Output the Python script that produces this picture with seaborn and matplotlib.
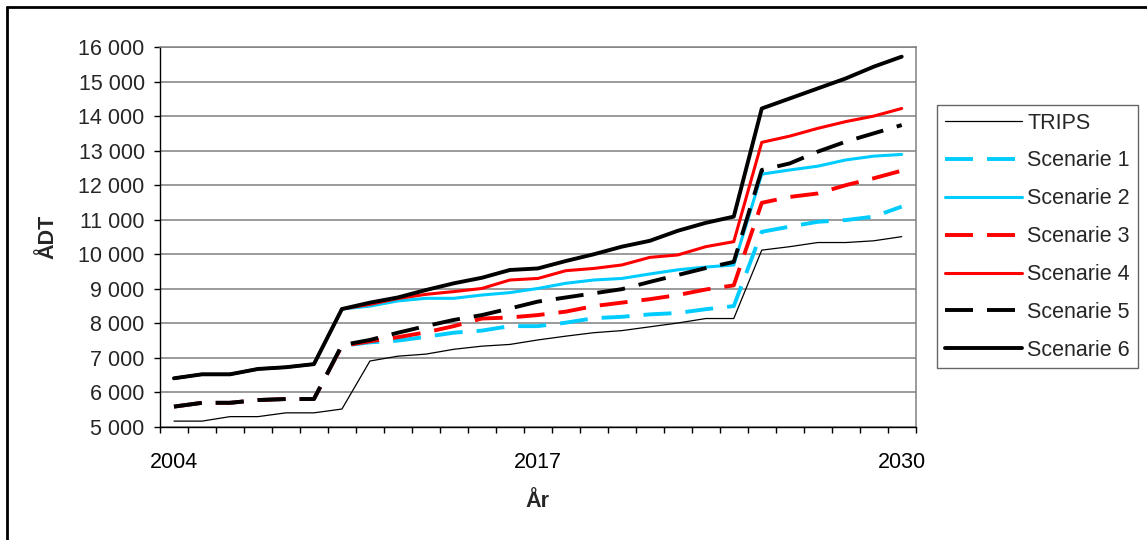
import numpy as np
import pandas as pd
import seaborn as sns
import matplotlib.pyplot as plt
from matplotlib.ticker import FuncFormatter, FixedLocator
from matplotlib.lines import Line2D

# data (ÅDT per year)
years = list(range(2004, 2031))

trips = [5170, 5170, 5300, 5300, 5410, 5410, 5520, 6910, 7050, 7110, 7250, 7340, 7390, 7520,
         7630, 7730, 7790, 7900, 8010, 8140, 8140, 10120, 10220, 10340, 10340, 10390, 10510]
scen1 = [5590, 5700, 5700, 5780, 5810, 5810, 7350, 7450, 7500, 7610, 7730, 7790, 7920, 7920,
         8020, 8150, 8190, 8260, 8300, 8410, 8500, 10650, 10800, 10940, 10990, 11090, 11380]
scen2 = [6410, 6525, 6525, 6680, 6730, 6820, 8415, 8500, 8650, 8725, 8725, 8820, 8890, 9010,
         9160, 9255, 9300, 9430, 9550, 9630, 9690, 12320, 12440, 12550, 12730, 12840, 12890]
scen3 = [5590, 5700, 5700, 5780, 5810, 5810, 7350, 7480, 7600, 7740, 7920, 8140, 8170, 8240,
         8340, 8500, 8600, 8700, 8820, 8980, 9100, 11490, 11660, 11760, 12000, 12200, 12420]
scen4 = [6410, 6525, 6525, 6680, 6730, 6820, 8415, 8550, 8720, 8840, 8920, 9010, 9255, 9300,
         9525, 9590, 9690, 9910, 9980, 10220, 10365, 13240, 13420, 13645, 13840, 14000, 14220]
scen5 = [5590, 5700, 5700, 5780, 5810, 5810, 7370, 7520, 7730, 7920, 8100, 8240, 8430, 8630,
         8750, 8870, 8990, 9200, 9400, 9600, 9780, 12440, 12630, 12970, 13260, 13500, 13740]
scen6 = [6410, 6525, 6525, 6680, 6730, 6820, 8415, 8600, 8750, 8965, 9160, 9320, 9545, 9590,
         9805, 10000, 10220, 10390, 10680, 10910, 11090, 14220, 14510, 14800, 15090, 15430, 15720]

series_names = ["TRIPS", "Scenarie 1", "Scenarie 2", "Scenarie 3", "Scenarie 4", "Scenarie 5", "Scenarie 6"]
series_vals = [trips, scen1, scen2, scen3, scen4, scen5, scen6]
x_labels = [2004, 2017, 2030]

sns.set_style("white")
plt.rcParams['font.family'] = ['Liberation Sans', 'DejaVu Sans']

W, H = 1147, 540
FS = 15.5
fig = plt.figure(figsize=(W / 100, H / 100), dpi=100)
ax = fig.add_axes([160 / W, (H - 427) / H, (915.7 - 160) / W, (427 - 47) / H])

dash = (0, (7.2, 3.6))
styles = {
    "TRIPS": dict(color="black", lw=0.9, ls="-"),
    "Scenarie 1": dict(color="#00CCFF", lw=2.8, ls=dash),
    "Scenarie 2": dict(color="#00CCFF", lw=2.2, ls="-"),
    "Scenarie 3": dict(color="#FF0000", lw=2.8, ls=dash),
    "Scenarie 4": dict(color="#FF0000", lw=2.2, ls="-"),
    "Scenarie 5": dict(color="black", lw=2.8, ls=dash),
    "Scenarie 6": dict(color="black", lw=2.8, ls="-"),
}

for name, vals in zip(series_names, series_vals):
    st = styles[name]
    sns.lineplot(x=years, y=vals, ax=ax, color=st["color"], lw=st["lw"],
                 linestyle=st["ls"], label=name)

ax.set_xlim(2003.5, 2030.5)
ax.set_ylim(5000, 16000)
ax.set_yticks(np.arange(5000, 16001, 1000))
ax.yaxis.set_major_formatter(FuncFormatter(lambda v, p: f"{int(v):,}".replace(",", " ")))
ax.set_xticks(x_labels)
ax.set_xticklabels([str(x) for x in x_labels])
ax.xaxis.set_minor_locator(FixedLocator(np.arange(2003.5, 2031, 1)))

ax.tick_params(axis="x", which="major", length=0, pad=18, labelsize=FS, colors="black")
ax.tick_params(axis="x", which="minor", length=4, width=1, direction="out", color="black", bottom=True)
ax.tick_params(axis="y", which="major", length=4, width=1, direction="out", pad=7,
               labelsize=FS, color="black", left=True)

ax.grid(axis="y", color="#808080", lw=1.1)
ax.grid(axis="x", visible=False)
ax.set_axisbelow(True)

for side in ["top", "right"]:
    ax.spines[side].set_color("#808080")
    ax.spines[side].set_linewidth(1.1)
for side in ["left", "bottom"]:
    ax.spines[side].set_color("black")
    ax.spines[side].set_linewidth(1.0)

ax.set_xlabel("År", fontsize=FS, fontweight="bold", labelpad=13)
ax.set_ylabel("ÅDT", fontsize=FS, fontweight="bold", labelpad=14)

leg = ax.legend(loc="upper left", bbox_to_anchor=(937 / W, 1 - 105 / H),
                bbox_transform=fig.transFigure, fontsize=FS, frameon=True,
                fancybox=False, edgecolor="#404040", handlelength=3.6,
                handletextpad=0.25, labelspacing=0.785, borderpad=0.35,
                borderaxespad=0)
leg.get_frame().set_linewidth(1.0)

# outer chart border
fig.add_artist(Line2D([7 / W, 7 / W], [0, 1 - 7 / H], transform=fig.transFigure, color="black", lw=2))
fig.add_artist(Line2D([7 / W, 1], [1 - 7 / H, 1 - 7 / H], transform=fig.transFigure, color="black", lw=2))

fig.savefig("out.png", dpi=100)
